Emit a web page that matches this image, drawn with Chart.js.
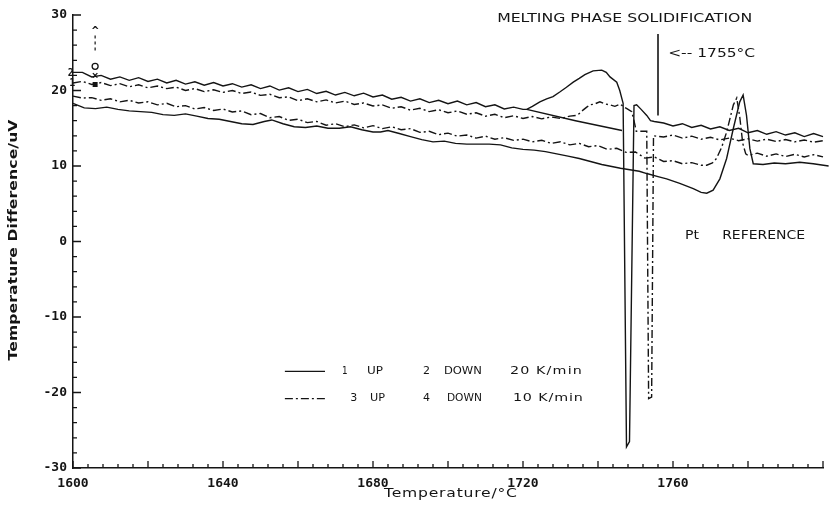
<!DOCTYPE html>
<html>
<head>
<meta charset="utf-8">
<script src="https://cdn.jsdelivr.net/npm/chart.js@4.4.0/dist/chart.umd.min.js"></script>
<style>
  html, body { margin: 0; padding: 0; background: #fff; }
  #wrap { width: 829px; height: 512px; }
</style>
</head>
<body>
<div id="wrap"><canvas id="dta" width="829" height="512"></canvas></div>
<script>
// DTA run of the melting / solidification around 1755 °C

// Axis labels
const xTickLabels = [1600, 1640, 1680, 1720, 1760];
const yTickLabels = [-30, -20, -10, 0, 10, 20, 30];

// Upper solid trace (melting bump, deep spike)
const solidUpperT = [
  1600, 1602.5, 1605, 1607.5, 1610, 1612.5, 1615, 1617.5, 1620, 1622.5,
  1625, 1627.5, 1630, 1632.5, 1635, 1637.5, 1640, 1642.5, 1645, 1647.5,
  1650, 1652.5, 1655, 1657.5, 1660, 1662.5, 1665, 1667.5, 1670, 1672.5,
  1675, 1677.5, 1680, 1682.5, 1685, 1687.5, 1690, 1692.5, 1695, 1697.5,
  1700, 1702.5, 1705, 1707.5, 1710, 1712.5, 1715, 1717.5, 1720,
  1721, 1722.5, 1724.5, 1726.3, 1728, 1729.8, 1731.5, 1733.4, 1735, 1736.5,
  1738.7, 1741, 1742.2, 1743.2, 1745, 1745.8, 1746.7, 1747.6, 1748.4, 1749.6,
  1750.3, 1751.5, 1753, 1754, 1755,
  1757.5, 1760, 1762.5, 1765, 1767.5, 1770, 1772.5, 1775, 1777.5, 1780,
  1782.5, 1785, 1787.5, 1790, 1792.5, 1795, 1797.5, 1800, 1801.5
];
const solidUpperV = [
  22.4, 22.4, 21.8, 22.0, 21.5, 21.8, 21.35, 21.7, 21.2, 21.5,
  21.0, 21.35, 20.85, 21.15, 20.7, 21.05, 20.6, 20.9, 20.45, 20.75,
  20.25, 20.6, 20.05, 20.35, 19.85, 20.15, 19.6, 19.9, 19.4, 19.75,
  19.3, 19.65, 19.15, 19.4, 18.85, 19.1, 18.6, 18.9, 18.4, 18.7,
  18.25, 18.6, 18.1, 18.4, 17.85, 18.1, 17.55, 17.8, 17.5,
  17.5, 17.9, 18.5, 18.9, 19.2, 19.8, 20.4, 21.1, 21.6, 22.1,
  22.6, 22.7, 22.4, 21.8, 21.1, 20.0, 18.3, -27.2, -26.5, 18.0,
  18.1, 17.5, 16.7, 16.0, 15.9,
  15.7, 15.3, 15.6, 15.1, 15.4, 14.9, 15.2, 14.7, 15.0, 14.4,
  14.7, 14.2, 14.55, 14.1, 14.4, 13.9, 14.3, 13.9, 14.2
];

// Straight solid branch below the melting bump
const solidBranchT = [1721, 1734, 1746.4];
const solidBranchV = [17.5, 16.0, 14.7];

// Lower solid trace
const solidLowerT = [
  1600, 1603, 1606, 1609, 1612, 1615, 1618, 1621, 1624, 1627,
  1630, 1633, 1636, 1639, 1642, 1645, 1648, 1651, 1653, 1656,
  1659, 1662, 1665, 1668, 1671, 1674, 1677, 1680, 1682, 1684,
  1687, 1690, 1693, 1696, 1699, 1702, 1705, 1708, 1711, 1714,
  1717, 1720, 1723, 1726, 1729, 1732, 1735, 1738, 1741, 1744,
  1746, 1748.5, 1751, 1753, 1756, 1758.3, 1761.8, 1765.4, 1767.5, 1769,
  1770.7, 1772.5, 1774.3, 1776.1, 1777.8, 1778.7, 1779.6, 1780.5, 1781.4,
  1784, 1787, 1790, 1793.8, 1797.4, 1801.5
];
const solidLowerV = [
  18.3, 17.7, 17.6, 17.8, 17.5, 17.3, 17.2, 17.1, 16.8, 16.7,
  16.9, 16.6, 16.3, 16.2, 15.9, 15.6, 15.5, 15.9, 16.1, 15.6,
  15.2, 15.1, 15.3, 15.0, 15.0, 15.2, 14.8, 14.5, 14.5, 14.7,
  14.3, 13.9, 13.5, 13.2, 13.3, 13.0, 12.9, 12.9, 12.9, 12.8,
  12.4, 12.2, 12.1, 11.9, 11.6, 11.3, 11.0, 10.6, 10.2, 9.9,
  9.7, 9.5, 9.3, 9.0, 8.6, 8.3, 7.7, 7.0, 6.5, 6.4,
  6.8, 8.3, 11.0, 15.0, 18.5, 19.4, 16.7, 12.3, 10.3,
  10.2, 10.4, 10.3, 10.5, 10.3, 10.0
];

// Upper dash-dot trace
const dashUpperT = [
  1600, 1602.5, 1605, 1607.5, 1610, 1612.5, 1615, 1617.5, 1620, 1622.5,
  1625, 1627.5, 1630, 1632.5, 1635, 1637.5, 1640, 1642.5, 1645, 1647.5,
  1650, 1652.5, 1655, 1657.5, 1660, 1662.5, 1665, 1667.5, 1670, 1672.5,
  1675, 1677.5, 1680, 1682.5, 1685, 1687.5, 1690, 1692.5, 1695, 1697.5,
  1700, 1702.5, 1705, 1707.5, 1710, 1712.5, 1715, 1717.5, 1720, 1722.5,
  1725, 1727.5, 1730, 1732.5,
  1734.3, 1735.2, 1736, 1737, 1737.8, 1739, 1740.5, 1742, 1743.2, 1744.5,
  1745.9, 1747, 1747.7, 1749, 1749.6, 1750.2, 1753.0, 1753.5, 1754.3, 1754.8,
  1757.5, 1760, 1762.5, 1765, 1767.5, 1770, 1772.5, 1775, 1777.5, 1780,
  1782.5, 1785, 1787.5, 1790, 1792.5, 1795, 1797.5, 1800, 1801.5
];
const dashUpperV = [
  21.0, 21.2, 20.8, 21.05, 20.65, 20.9, 20.5, 20.75, 20.35, 20.6,
  20.25, 20.45, 20.0, 20.25, 19.85, 20.1, 19.75, 20.0, 19.6, 19.8,
  19.35, 19.5, 19.05, 19.15, 18.65, 18.9, 18.5, 18.75, 18.35, 18.6,
  18.15, 18.35, 17.95, 18.1, 17.65, 17.85, 17.4, 17.65, 17.2, 17.45,
  17.05, 17.3, 16.85, 17.05, 16.6, 16.85, 16.4, 16.65, 16.3, 16.55,
  16.25, 16.5, 16.3, 16.6,
  16.7, 17.0, 17.4, 17.8, 18.1, 18.2, 18.5, 18.2, 18.1, 17.9,
  18.2, 17.8, 17.6, 17.2, 16.0, 14.6, 14.6, -20.8, -20.6, 14.0,
  13.85, 14.1, 13.7, 13.95, 13.55, 13.8, 13.45, 13.7, 13.35, 13.6,
  13.3, 13.55, 13.25, 13.5, 13.2, 13.45, 13.15, 13.35, 13.1
];

// Lower dash-dot trace
const dashLowerT = [
  1600, 1602.5, 1605, 1607.5, 1610, 1612.5, 1615, 1617.5, 1620, 1622.5,
  1625, 1627.5, 1630, 1632.5, 1635, 1637.5, 1640, 1642.5, 1645, 1647.5,
  1650, 1652.5, 1655, 1657.5, 1660, 1662.5, 1665, 1667.5, 1670, 1672.5,
  1675, 1677.5, 1680, 1682.5, 1685, 1687.5, 1690, 1692.5, 1695, 1697.5,
  1700, 1702.5, 1705, 1707.5, 1710, 1712.5, 1715, 1717.5, 1720, 1722.5,
  1725, 1727.5, 1730, 1732.5, 1735, 1737.5, 1740, 1742.5, 1745, 1747.5,
  1750, 1752.5, 1755, 1757.5, 1760, 1762.5, 1765, 1767.5,
  1769, 1770.5, 1771.6, 1773, 1774.3, 1775.3, 1776.1, 1777, 1777.8, 1778.6,
  1779.4, 1780,
  1782.5, 1785, 1787.5, 1790, 1792.5, 1795, 1797.5, 1800, 1801.5
];
const dashLowerV = [
  19.25, 19.0, 19.05, 18.7, 18.9, 18.5, 18.7, 18.35, 18.5, 18.1,
  18.3, 17.85, 18.0, 17.55, 17.75, 17.35, 17.55, 17.15, 17.3, 16.8,
  16.95, 16.4, 16.55, 16.05, 16.2, 15.75, 15.9, 15.4, 15.6, 15.2,
  15.45, 15.05, 15.35, 14.95, 15.2, 14.8, 14.95, 14.45, 14.6, 14.15,
  14.35, 13.95, 14.1, 13.7, 13.95, 13.55, 13.75, 13.4, 13.55, 13.2,
  13.4, 13.0, 13.2, 12.8, 13.0, 12.55, 12.7, 12.2, 12.35, 11.8,
  11.85, 11.05, 11.2, 10.6, 10.7, 10.3, 10.45, 10.1,
  10.1, 10.4, 11.0, 12.5, 14.5, 16.5, 18.1, 19.0, 16.5, 13.0,
  11.6, 11.4,
  11.7, 11.3, 11.6, 11.25, 11.55, 11.2, 11.5, 11.2, 11.3
];

// 1755 °C marker line
const markerLineT = [1756, 1756];
const markerLineV = [16.7, 27.5];

// Start-of-run symbols at the top left (o, x, square) and the arrow above them
const symbolT = [1605.9, 1605.9, 1605.9];
const symbolV = [23.2, 22.0, 20.8];
const arrowT = [1605.9, 1605.9];
const arrowV = [25.3, 27.6];

const ink = '#141414';
const monoFont = '"DejaVu Sans Mono", monospace';
const sansFont = '"DejaVu Sans", sans-serif';
const dashDot = [8, 3, 2, 3];

function toPoints(ts, vs) {
  return ts.map((t, i) => ({ x: t, y: vs[i] }));
}

function trace(label, ts, vs, dash, width) {
  return {
    label,
    data: toPoints(ts, vs),
    borderColor: ink,
    borderWidth: width || 1.4,
    borderDash: dash || [],
    pointRadius: 0,
    fill: false,
    tension: 0,
    clip: false
  };
}

// Fit text to a target width: stretch the glyphs a little, spread the rest
function fitText(ctx, text, x, y, width, font) {
  ctx.font = font;
  ctx.letterSpacing = '0px';
  const w = ctx.measureText(text).width;
  const sx = Math.min(Math.max(width / w, 0.8), 1.3);
  const gap = text.length > 1 ? (width / sx - w) / (text.length - 1) : 0;
  ctx.save();
  ctx.translate(x, y);
  ctx.scale(sx, 1);
  ctx.letterSpacing = Math.max(gap, 0) + 'px';
  ctx.fillText(text, 0, 0);
  ctx.restore();
  ctx.letterSpacing = '0px';
}

// Notes placed in data units (t, v), width in px
const notes = [
  { text: 'MELTING PHASE SOLIDIFICATION', t: 1713.1, v: 29.5, width: 255, font: '13px ' + sansFont },
  { text: '<-- 1755°C', t: 1758.7, v: 24.9, width: 87, font: '13px ' + sansFont },
  { text: 'Pt', t: 1763.2, v: 0.8, width: 14, font: '13px ' + sansFont },
  { text: 'REFERENCE', t: 1773.1, v: 0.8, width: 83, font: '13px ' + sansFont },
  { text: '1', t: 1671.7, v: -17.2, width: 5, font: '11px ' + sansFont },
  { text: 'UP', t: 1678.4, v: -17.2, width: 16, font: '11px ' + sansFont },
  { text: '2', t: 1693.3, v: -17.2, width: 7, font: '11px ' + sansFont },
  { text: 'DOWN', t: 1698.9, v: -17.2, width: 38, font: '11px ' + sansFont },
  { text: '20 K/min', t: 1716.5, v: -17.2, width: 72, font: '11px ' + sansFont },
  { text: '3', t: 1673.9, v: -20.8, width: 7, font: '11px ' + sansFont },
  { text: 'UP', t: 1679.2, v: -20.8, width: 15, font: '11px ' + sansFont },
  { text: '4', t: 1693.3, v: -20.8, width: 7, font: '11px ' + sansFont },
  { text: 'DOWN', t: 1699.7, v: -20.8, width: 35, font: '11px ' + sansFont },
  { text: '10 K/min', t: 1717.3, v: -20.8, width: 70, font: '11px ' + sansFont },
  { text: '2', t: 1598.6, v: 22.3, width: 6, font: 'bold 10px ' + monoFont },
  { text: '1', t: 1599.0, v: 20.9, width: 6, font: 'bold 10px ' + monoFont },
  { text: '^', t: 1605.0, v: 27.9, width: 7, font: 'bold 11px ' + monoFont }
];

// Legend line samples: [tStart, tEnd, v, dash]
const legendRows = [
  [1656.5, 1667.2, -17.2, []],
  [1656.5, 1667.2, -20.8, dashDot]
];

const tickMarks = {
  id: 'tickMarks',
  afterDraw(chart) {
    const { ctx, chartArea, scales: { x, y } } = chart;
    ctx.save();
    ctx.strokeStyle = ink;
    ctx.lineWidth = 1.3;
    ctx.beginPath();
    for (let t = 1600; t <= 1800; t += 4) {
      const px = x.getPixelForValue(t);
      const len = (t - 1600) % 20 === 0 ? 7 : 4;
      ctx.moveTo(px, chartArea.bottom);
      ctx.lineTo(px, chartArea.bottom - len);
    }
    for (let v = -30; v <= 30; v += 2) {
      const py = y.getPixelForValue(v);
      const len = v % 10 === 0 ? 8 : 4;
      ctx.moveTo(chartArea.left, py);
      ctx.lineTo(chartArea.left + len, py);
    }
    ctx.stroke();

    // axis titles
    ctx.fillStyle = ink;
    ctx.textBaseline = 'middle';
    ctx.textAlign = 'left';
    const xMid = (chartArea.left + chartArea.right) / 2 + 3;
    fitText(ctx, 'Temperature/°C', xMid - 67, chartArea.bottom + 26, 133, '12px ' + sansFont);
    ctx.translate(14, (chartArea.top + chartArea.bottom) / 2 - 1);
    ctx.rotate(-Math.PI / 2);
    fitText(ctx, 'Temperature Difference/uV', -120, 0, 240, 'bold 12px ' + sansFont);
    ctx.restore();
  }
};

const annotationText = {
  id: 'annotationText',
  afterDatasetsDraw(chart) {
    const { ctx, scales: { x, y } } = chart;
    ctx.save();
    ctx.fillStyle = ink;
    ctx.strokeStyle = ink;
    ctx.textBaseline = 'middle';
    ctx.textAlign = 'left';
    notes.forEach(n => {
      fitText(ctx, n.text, x.getPixelForValue(n.t), y.getPixelForValue(n.v), n.width, n.font);
    });
    ctx.lineWidth = 1.3;
    legendRows.forEach(([t0, t1, v, dash]) => {
      ctx.setLineDash(dash);
      ctx.beginPath();
      ctx.moveTo(x.getPixelForValue(t0), y.getPixelForValue(v));
      ctx.lineTo(x.getPixelForValue(t1), y.getPixelForValue(v));
      ctx.stroke();
    });
    ctx.restore();
  }
};

new Chart(document.getElementById('dta'), {
  type: 'line',
  data: {
    datasets: [
      trace('1 UP / 2 DOWN 20 K/min', solidUpperT, solidUpperV),
      trace('branch', solidBranchT, solidBranchV),
      trace('lower solid', solidLowerT, solidLowerV),
      trace('3 UP / 4 DOWN 10 K/min', dashUpperT, dashUpperV, dashDot),
      trace('lower dash-dot', dashLowerT, dashLowerV, dashDot),
      trace('1755 °C', markerLineT, markerLineV, [], 1.6),
      trace('arrow', arrowT, arrowV, [3, 3], 1.2),
      {
        label: 'symbols',
        data: toPoints(symbolT, symbolV),
        showLine: false,
        pointStyle: ['circle', 'crossRot', 'rect'],
        pointRadius: [3, 3.2, 2.6],
        pointBorderWidth: 1.3,
        pointBorderColor: ink,
        pointBackgroundColor: ['#fff', ink, ink],
        clip: false
      }
    ]
  },
  options: {
    responsive: false,
    animation: false,
    events: [],
    layout: { padding: { top: 15, right: 6, left: 0, bottom: 0 } },
    plugins: {
      legend: { display: false },
      tooltip: { enabled: false }
    },
    scales: {
      x: {
        type: 'linear',
        min: 1600,
        max: 1800,
        afterFit: s => { s.height = 44; },
        afterBuildTicks: s => { s.ticks = xTickLabels.map(v => ({ value: v })); },
        grid: { display: false, drawTicks: false },
        border: { display: true, color: ink, width: 1.5 },
        ticks: {
          color: ink,
          padding: 8,
          maxRotation: 0,
          autoSkip: false,
          font: { family: monoFont, size: 13, weight: 'bold' },
          callback: v => String(v)
        }
      },
      y: {
        type: 'linear',
        min: -30,
        max: 30,
        afterFit: s => { s.width = 73; },
        afterBuildTicks: s => { s.ticks = yTickLabels.map(v => ({ value: v })); },
        grid: { display: false, drawTicks: false },
        border: { display: true, color: ink, width: 1.5 },
        ticks: {
          color: ink,
          padding: 6,
          font: { family: monoFont, size: 13, weight: 'bold' },
          callback: v => String(v)
        }
      }
    }
  },
  plugins: [tickMarks, annotationText]
});
</script>
</body>
</html>
